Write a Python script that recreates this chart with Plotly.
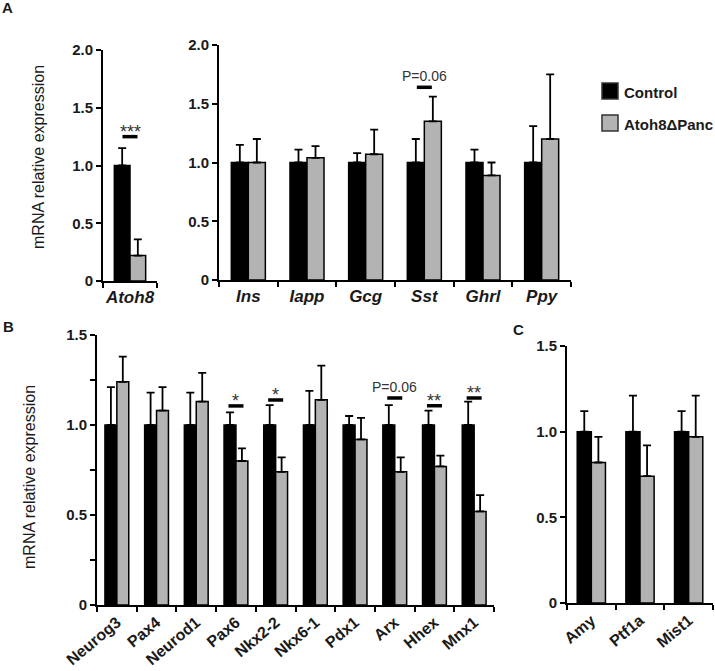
import plotly.graph_objects as go

# ---------------- data ----------------
series_names = ["Control", "Atoh8\u0394Panc"]

a1_genes = ["Atoh8"]
a1_ctrl = [1.00]
a1_ctrl_sem = [0.15]
a1_ko = [0.22]
a1_ko_sem = [0.14]

a2_genes = ["Ins", "Iapp", "Gcg", "Sst", "Ghrl", "Ppy"]
a2_ctrl = [1.00, 1.00, 1.00, 1.00, 1.00, 1.00]
a2_ctrl_sem = [0.15, 0.11, 0.08, 0.20, 0.11, 0.31]
a2_ko = [1.00, 1.04, 1.07, 1.35, 0.89, 1.20]
a2_ko_sem = [0.20, 0.10, 0.21, 0.21, 0.11, 0.55]

b_genes = ["Neurog3", "Pax4", "Neurod1", "Pax6", "Nkx2-2", "Nkx6-1", "Pdx1", "Arx", "Hhex", "Mnx1"]
b_ctrl = [1.00] * 10
b_ctrl_sem = [0.21, 0.18, 0.18, 0.07, 0.11, 0.19, 0.05, 0.11, 0.08, 0.13]
b_ko = [1.24, 1.08, 1.13, 0.80, 0.74, 1.14, 0.92, 0.74, 0.77, 0.52]
b_ko_sem = [0.14, 0.13, 0.16, 0.07, 0.08, 0.19, 0.12, 0.08, 0.06, 0.09]

c_genes = ["Amy", "Ptf1a", "Mist1"]
c_ctrl = [1.00, 1.00, 1.00]
c_ctrl_sem = [0.12, 0.21, 0.12]
c_ko = [0.82, 0.74, 0.97]
c_ko_sem = [0.15, 0.18, 0.24]

# significance marks: (panel, gene, label, bar height)
sig_marks = [
    ("a1", "Atoh8", "***", 1.25),
    ("a2", "Sst", "P=0.06", 1.64),
    ("b", "Pax6", "*", 1.106),
    ("b", "Nkx2-2", "*", 1.139),
    ("b", "Arx", "P=0.06", 1.15),
    ("b", "Hhex", "**", 1.107),
    ("b", "Mnx1", "**", 1.15),
]

# ---------------- layout geometry (pixels) ----------------
W, H = 715, 671
FONT = "Liberation Sans, Arial, sans-serif"
TXT = "#1a1a1a"
GRAY = "#b3b3b3"

def px_x(p):
    return p / W

def px_y(p):
    return 1 - p / H

panels = {
    # key: (axis id, x px domain, y px domain (bottom, top), y max, major ticks, minor ticks, bar width)
    "a1": ("", (103, 157), (281, 50), 2.0, [0, 0.5, 1.0, 1.5, 2.0], None, 0.29),
    "a2": ("2", (219, 571), (280, 45), 2.0, [0, 0.5, 1.0, 1.5, 2.0], None, 0.29),
    "b": ("3", (97, 494), (605, 335), 1.5, [0, 0.5, 1.0, 1.5], [0.25, 0.75, 1.25], 0.30),
    "c": ("4", (567, 713), (603, 346), 1.5, [0, 0.5, 1.0, 1.5], None, 0.29),
}

panel_data = {
    "a1": (a1_genes, a1_ctrl, a1_ctrl_sem, a1_ko, a1_ko_sem),
    "a2": (a2_genes, a2_ctrl, a2_ctrl_sem, a2_ko, a2_ko_sem),
    "b": (b_genes, b_ctrl, b_ctrl_sem, b_ko, b_ko_sem),
    "c": (c_genes, c_ctrl, c_ctrl_sem, c_ko, c_ko_sem),
}

fig = go.Figure()
layout_axes = {}

for key, (aid, xd, yd, ymax, majors, minors, bw) in panels.items():
    genes, ctrl, ctrl_sem, ko, ko_sem = panel_data[key]
    xa = "x" + aid
    ya = "y" + aid
    for vals, sems, color, name, off in [
        (ctrl, ctrl_sem, "black", series_names[0], -bw),
        (ko, ko_sem, GRAY, series_names[1], 0.0),
    ]:
        fig.add_trace(go.Bar(
            x=genes, y=vals, name=name, xaxis=xa, yaxis=ya,
            width=bw, offset=off, showlegend=False,
            marker=dict(color=color, line=dict(color="black", width=1.5)),
            error_y=dict(type="data", symmetric=False, array=sems,
                         arrayminus=[0] * len(sems), color="black",
                         thickness=1.8, width=4),
        ))

    italic = key in ("a1", "a2")
    xaxis = dict(
        domain=[px_x(xd[0]), px_x(xd[1])],
        anchor=ya, type="category", categoryorder="array", categoryarray=genes,
        range=[-0.5, len(genes) - 0.5], automargin=False,
        showline=True, linecolor="black", linewidth=2,
        ticks="outside", ticklen=5, tickwidth=1.5, tickcolor="black",
        tickson="boundaries", showgrid=False, zeroline=False,
        tickfont=dict(family=FONT, size=17 if italic else 16, color=TXT,
                      weight="bold", style="italic" if italic else "normal"),
        tickangle=0 if italic else -40,
        fixedrange=True,
    )
    yaxis = dict(
        domain=[px_y(yd[0]), px_y(yd[1])],
        anchor=xa, range=[0, ymax], automargin=False,
        showline=True, linecolor="black", linewidth=2,
        ticks="outside", ticklen=5, tickwidth=1.5, tickcolor="black",
        tickvals=majors,
        ticktext=["0" if v == 0 else f"{v:.1f}" for v in majors],
        tickfont=dict(family=FONT, size=15, color=TXT, weight="bold"),
        showgrid=False, zeroline=False, fixedrange=True,
    )
    if minors:
        yaxis["minor"] = dict(tickvals=minors, ticks="outside", ticklen=5,
                              tickwidth=1.5, tickcolor="black", showgrid=False)
    layout_axes["xaxis" + aid] = xaxis
    layout_axes["yaxis" + aid] = yaxis

fig.update_layout(**layout_axes)

shapes = []
annotations = []

# significance bars + labels
for key, gene, label, yv in sig_marks:
    aid, xd, yd, ymax, majors, minors, bw = panels[key]
    genes = panel_data[key][0]
    idx = genes.index(gene)
    px_per_cat = (xd[1] - xd[0]) / len(genes)
    half = 7.5 / px_per_cat
    shapes.append(dict(type="line", xref="x" + aid, yref="y" + aid,
                       x0=idx - half, x1=idx + half, y0=yv, y1=yv,
                       line=dict(color="black", width=3.5)))
    if label.startswith("P"):
        annotations.append(dict(xref="x" + aid, yref="y" + aid, x=idx, y=yv,
                                text=label, showarrow=False, yanchor="middle",
                                yshift=11, font=dict(family=FONT, size=14, color="#333")))
    else:
        annotations.append(dict(xref="x" + aid, yref="y" + aid, x=idx, y=yv,
                                text=label, showarrow=False, yanchor="middle",
                                yshift=5, font=dict(family=FONT, size=18, color="#333")))

# y-axis titles
for cx, cy in [(38, 157), (29, 477)]:
    annotations.append(dict(xref="paper", yref="paper", x=px_x(cx), y=px_y(cy),
                            text="mRNA relative expression", textangle=-90,
                            showarrow=False, xanchor="center", yanchor="middle",
                            font=dict(family=FONT, size=16, color=TXT)))

# panel letters
for letter, cx, cy in [("A", 7, 8), ("B", 8, 326), ("C", 518, 329)]:
    annotations.append(dict(xref="paper", yref="paper", x=px_x(cx), y=px_y(cy),
                            text=letter, showarrow=False, xanchor="center", yanchor="middle",
                            font=dict(family=FONT, size=15, color=TXT, weight="bold")))

# legend (drawn manually)
for i, (name, color) in enumerate(zip(series_names, ["black", GRAY])):
    top = 83 + 32 * i
    shapes.append(dict(type="rect", xref="paper", yref="paper",
                       x0=px_x(602), x1=px_x(618), y0=px_y(top + 16), y1=px_y(top),
                       fillcolor=color, line=dict(color="#333", width=1.5)))
    annotations.append(dict(xref="paper", yref="paper", x=px_x(622), y=px_y(top + 9),
                            text=name, showarrow=False, xanchor="left", yanchor="middle",
                            font=dict(family=FONT, size=15, color=TXT, weight="bold")))

fig.update_layout(
    width=W, height=H,
    margin=dict(l=0, r=0, t=0, b=0, autoexpand=False),
    paper_bgcolor="white", plot_bgcolor="white",
    barmode="overlay",
    showlegend=False,
    shapes=shapes,
    annotations=annotations,
    font=dict(family=FONT, color=TXT),
)

fig.write_html(
    "out.html",
    config={"displayModeBar": False},
    post_script="document.body.style.margin='0';document.body.style.overflow='hidden';",
)
